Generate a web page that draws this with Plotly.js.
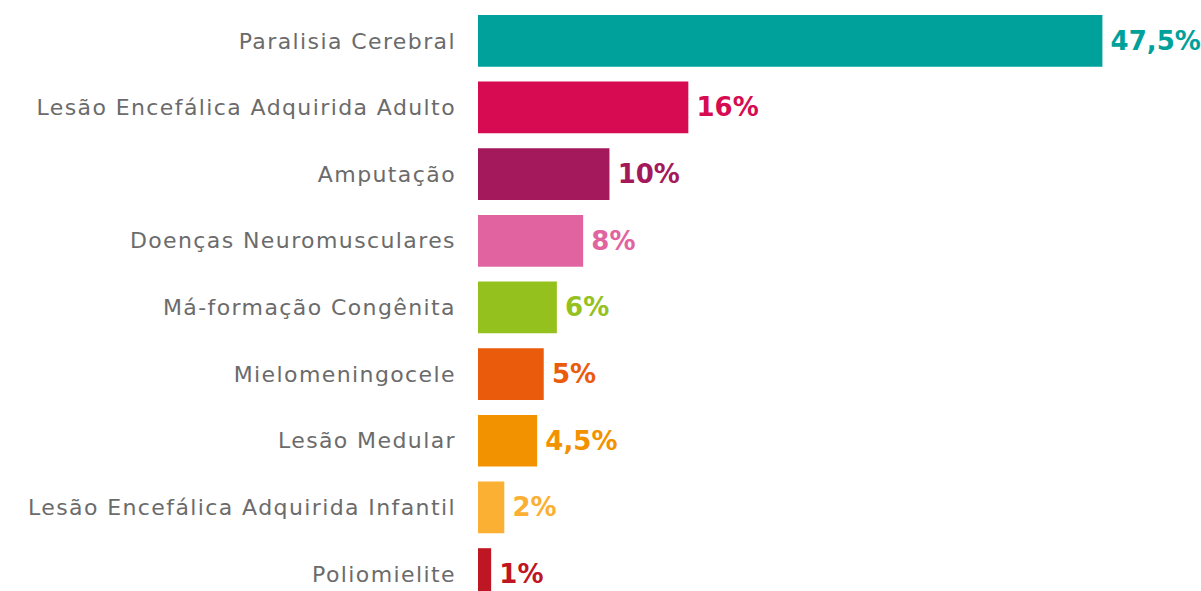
<!DOCTYPE html>
<html><head><meta charset="utf-8">
<script src="https://cdn.plot.ly/plotly-3.0.1.min.js"></script>
<style>html,body{margin:0;padding:0;background:#fff}#c{width:1201px;height:591px}
#c .ytick text{letter-spacing:1.4px}</style>
</head><body><div id="c"></div>
<script>
const categories = ["Paralisia Cerebral","Lesão Encefálica Adquirida Adulto","Amputação","Doenças Neuromusculares","Má-formação Congênita","Mielomeningocele","Lesão Medular","Lesão Encefálica Adquirida Infantil","Poliomielite"];
const values = [47.5,16,10,8,6,5,4.5,2,1];
const valueLabels = ["47,5%","16%","10%","8%","6%","5%","4,5%","2%","1%"];
const colors = ["#00A19A","#D60B51","#A3195B","#E164A0","#95C11F","#EA5B0C","#F39200","#FBB034","#BE1622"];

Plotly.newPlot('c',[{
  type:'bar', orientation:'h', x:values, y:categories,
  marker:{color:colors}, width:0.776,
  text:valueLabels.map(s=>'\u2009'+s), textposition:'outside', cliponaxis:false,
  textfont:{family:'"DejaVu Sans", sans-serif', size:26, color:colors, weight:700},
  hoverinfo:'none'
}],{
  width:1201,height:591,margin:{l:478,r:0,t:0,b:0},
  paper_bgcolor:'#fff',plot_bgcolor:'#fff',showlegend:false,
  xaxis:{range:[0,55],visible:false,fixedrange:true},
  yaxis:{autorange:false,range:[8.254,-0.612],type:'category',showgrid:false,zeroline:false,showline:false,ticks:'',
    ticklabelstandoff:21,tickfont:{family:'"DejaVu Sans", sans-serif',size:22,color:'#6b6b6b'}},
  font:{family:'"DejaVu Sans", sans-serif'}
},{staticPlot:true});
</script></body></html>
